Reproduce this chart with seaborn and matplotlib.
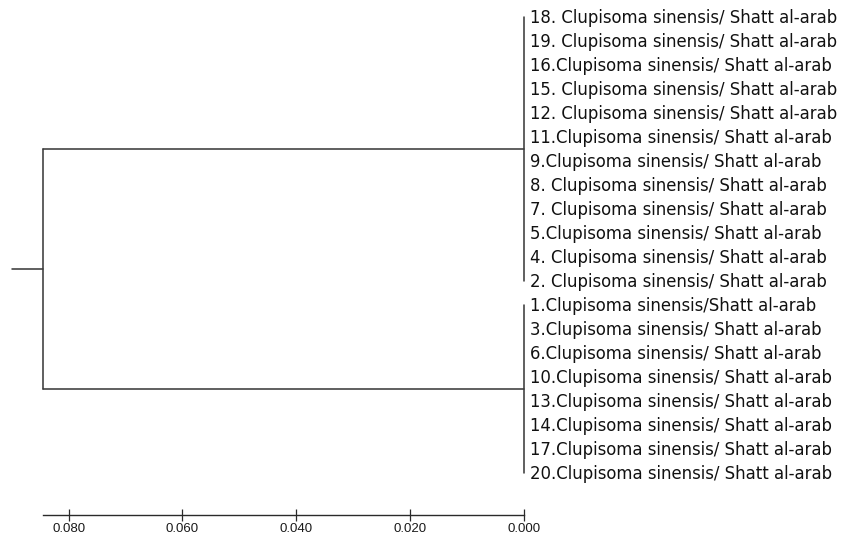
import numpy as np
import pandas as pd
import matplotlib
matplotlib.use("Agg")
import matplotlib.pyplot as plt
import matplotlib.transforms as mtransforms
import seaborn as sns

# ---------------- data ----------------
leaf_labels = [
    "18. Clupisoma sinensis/ Shatt al-arab",
    "19. Clupisoma sinensis/ Shatt al-arab",
    "16.Clupisoma sinensis/ Shatt al-arab",
    "15. Clupisoma sinensis/ Shatt al-arab",
    "12. Clupisoma sinensis/ Shatt al-arab",
    "11.Clupisoma sinensis/ Shatt al-arab",
    "9.Clupisoma sinensis/ Shatt al-arab",
    "8. Clupisoma sinensis/ Shatt al-arab",
    "7. Clupisoma sinensis/ Shatt al-arab",
    "5.Clupisoma sinensis/ Shatt al-arab",
    "4. Clupisoma sinensis/ Shatt al-arab",
    "2. Clupisoma sinensis/ Shatt al-arab",
    "1.Clupisoma sinensis/Shatt al-arab",
    "3.Clupisoma sinensis/ Shatt al-arab",
    "6.Clupisoma sinensis/ Shatt al-arab",
    "10.Clupisoma sinensis/ Shatt al-arab",
    "13.Clupisoma sinensis/ Shatt al-arab",
    "14.Clupisoma sinensis/ Shatt al-arab",
    "17.Clupisoma sinensis/ Shatt al-arab",
    "20.Clupisoma sinensis/ Shatt al-arab",
]
cluster_sizes = [12, 8]          # leaves per clade, in leaf order
cluster_heights = [0.0, 0.0]     # within-clade distance
root_height = 0.0845             # distance at which the two clades join
root_stem = 0.0054               # root branch drawn to the left
tick_values = [0.0, 0.02, 0.04, 0.06, 0.08]
tick_labels = ["0.000", "0.020", "0.040", "0.060", "0.080"]

# ---------------- build dendrogram segments ----------------
leaf_pos = np.arange(len(leaf_labels))
segs = []
node_y = []
start = 0
for k, (n, h) in enumerate(zip(cluster_sizes, cluster_heights)):
    idx = leaf_pos[start:start + n]
    y0, y1 = idx[0], idx[-1]
    ny = (y0 + y1) / 2.0
    node_y.append(ny)
    segs.append((f"c{k}v", [h, h], [y0, y1]))
    segs.append((f"c{k}h", [h, root_height], [ny, ny]))
    start += n
root_y = np.mean(node_y)
segs.append(("rv", [root_height, root_height], [min(node_y), max(node_y)]))
segs.append(("rs", [root_height, root_height + root_stem], [root_y, root_y]))

rows = []
for name, xs, ys in segs:
    for order, (x, y) in enumerate(zip(xs, ys)):
        rows.append({"seg": name, "x": x, "y": y, "o": order})
df = pd.DataFrame(rows)

# ---------------- plot ----------------
sns.set_style("white")
plt.rcParams["font.family"] = ["Liberation Sans", "DejaVu Sans"]

fig = plt.figure(figsize=(8.41, 5.38), dpi=100)
ax = fig.add_axes([0, 0, 1, 1])

line_color = "#3c3c3c"
sns.lineplot(data=df, x="x", y="y", units="seg", estimator=None, sort=False,
             color=line_color, linewidth=1.15, ax=ax, legend=False)

ax.set_xlim(0.09205, -0.05569)
ax.set_ylim(21.694, -0.695)

# leaf labels
offset = mtransforms.offset_copy(ax.transData, fig=fig, x=6.0, y=0, units="dots")
for yy, lab in zip(leaf_pos, leaf_labels):
    ax.text(0.0, yy + 0.25, lab, transform=offset, ha="left", va="baseline",
            fontsize=11.9, family=["DejaVu Sans"], color="#111111")

# scale axis
for s in ["left", "right", "top"]:
    ax.spines[s].set_visible(False)
ax.spines["bottom"].set_position(("data", 20.72))
ax.spines["bottom"].set_bounds(0.0, root_height)
ax.spines["bottom"].set_color("#2a2a2a")
ax.spines["bottom"].set_linewidth(1.0)
ax.set_xticks(tick_values)
ax.set_xticklabels(tick_labels)
ax.tick_params(axis="x", bottom=True, direction="inout", length=8.2, width=0.9,
               color="#2a2a2a", pad=2.2, labelsize=9.5, labelcolor="#1a1a1a")
ax.set_yticks([])
ax.set_xlabel("")
ax.set_ylabel("")

fig.savefig("out.png", dpi=100)
